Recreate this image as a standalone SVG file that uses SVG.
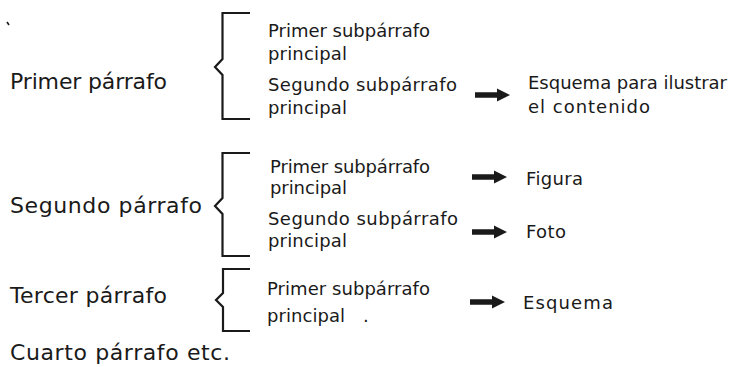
<svg xmlns="http://www.w3.org/2000/svg" xmlns:xlink="http://www.w3.org/1999/xlink" width="738" height="367" viewBox="0 0 738 367">
<style>
text{font-family:"DejaVu Sans","Liberation Sans",sans-serif;fill:#1a1a1a}
.big{font-size:22px}
.sub{font-size:18px}
.br{fill:none;stroke:#1a1a1a;stroke-width:2.2}
.ar{fill:#1a1a1a}
</style>
<defs>
<path id="arr" d="M0,-2.8 H22 V-6.5 L35,0 L22,6.5 V2.8 H0 Z"/>
</defs>
<rect width="738" height="367" fill="#fff"/>
<path d="M7,22 L9,25" stroke="#1a1a1a" stroke-width="1.6"/>
<g id="p1">
<text class="big" x="10" y="89" textLength="157">Primer párrafo</text>
<path class="br" d="M250,13 H222.5 V59 L215,67 L222.5,75 V119 H250"/>
<text class="sub" x="268" y="37" textLength="162">Primer subpárrafo</text>
<text class="sub" x="268" y="60" textLength="79">principal</text>
<text class="sub" x="268" y="91" textLength="189">Segundo subpárrafo</text>
<text class="sub" x="268" y="114" textLength="79">principal</text>
</g>
<g id="p2">
<text class="big" x="10" y="213" textLength="192">Segundo párrafo</text>
<path class="br" d="M250,153 H222.5 V198 L215,206 L222.5,214 V256 H250"/>
<text class="sub" x="270" y="173" textLength="160">Primer subpárrafo</text>
<text class="sub" x="270" y="194" textLength="77">principal</text>
<text class="sub" x="268" y="225" textLength="190">Segundo subpárrafo</text>
<text class="sub" x="268" y="247" textLength="79">principal</text>
</g>
<g id="p3">
<text class="big" x="10" y="303" textLength="157">Tercer párrafo</text>
<path class="br" d="M250,269 H223 V293 L216,300 L223,307 V331 H250"/>
<text class="sub" x="267" y="295" textLength="163">Primer subpárrafo</text>
<text class="sub" x="267" y="322" textLength="78">principal</text>
<text class="sub" x="363" y="322">.</text>
</g>
<g id="p4">
<text class="big" x="10" y="360" textLength="220">Cuarto párrafo etc.</text>
</g>
<g id="t1"><text class="sub" x="528" y="89" textLength="199">Esquema para ilustrar</text><text class="sub" x="528" y="113" textLength="122">el contenido</text></g>
<g id="t2"><text class="sub" x="526" y="185" textLength="57">Figura</text></g>
<g id="t3"><text class="sub" x="526" y="238" textLength="40">Foto</text></g>
<g id="t4"><text class="sub" x="523" y="309" textLength="90">Esquema</text></g>
<g id="connectors" class="ar">
<use xlink:href="#arr" x="475" y="95"/>
<use xlink:href="#arr" x="472" y="177"/>
<use xlink:href="#arr" x="472" y="232"/>
<use xlink:href="#arr" x="470" y="302"/>
</g>
</svg>
